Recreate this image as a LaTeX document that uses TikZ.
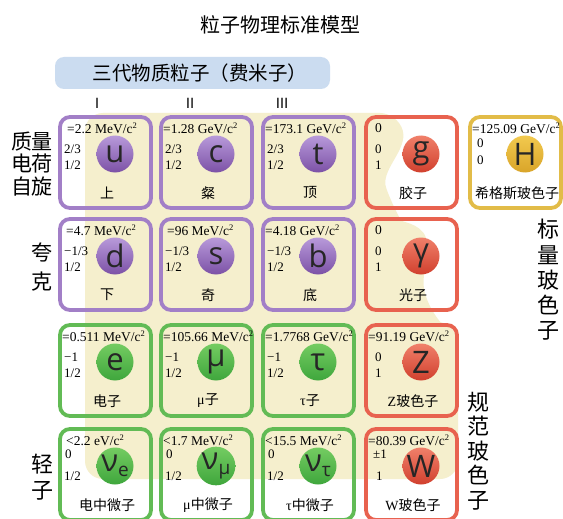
\documentclass[tikz,border=0pt]{standalone}
\usepackage{fontspec}
\setmainfont{Liberation Serif}
\newfontfamily\cjk{Noto Sans CJK SC}
\newfontfamily\symf{Open Sans}
\definecolor{puB}{HTML}{A27FC7}
\definecolor{puL}{HTML}{B89ADA}
\definecolor{puD}{HTML}{7C51A6}
\definecolor{reB}{HTML}{E8624F}
\definecolor{reL}{HTML}{F0806A}
\definecolor{reD}{HTML}{D1402E}
\definecolor{grB}{HTML}{62BB55}
\definecolor{grL}{HTML}{74CC62}
\definecolor{grD}{HTML}{3FA63C}
\definecolor{yeB}{HTML}{E2BC48}
\definecolor{yeL}{HTML}{F2CA4E}
\definecolor{yeD}{HTML}{D9A42A}
\definecolor{beige}{HTML}{F5EFCD}
\definecolor{bannerblue}{HTML}{CBDCF0}
\newcommand\pcell[9]{%
  \node[cell, draw=#4B] (#1) at (#2+47.5,#3+47.5) {};
  \node[ball, top color=#4L, bottom color=#4D] (#1-o) at (#2+57,#3+39) {#8};
  \node[mass] (#1-m) at (#2+4,#3+13) {#5};
  \node[num] (#1-q) at (#2+6,#3+\qy) {#6};
  \node[num] (#1-s) at (#2+6,#3+\sy) {#7};
  \node[cname] (#1-n) at (#2+49,#3+78) {#9};
}
\newcommand\sub[1]{{\fontsize{19}{19}\selectfont\raisebox{-5pt}{#1}}}
\newcommand\csq{c\raisebox{4.6pt}{\fontsize{8.5}{8.5}\selectfont 2}}
\begin{document}
\begin{tikzpicture}[x=1pt,y=-1pt,
  cell/.style={rectangle, minimum width=91pt, minimum height=91pt, inner sep=0pt, line width=3.8pt, rounded corners=10pt},
  ball/.style={circle, minimum size=37pt, inner sep=0pt, shading angle=30, text=black!85, font=\symf\fontsize{31}{31}\selectfont},
  mass/.style={anchor=west, inner sep=0pt, font=\fontsize{13.5}{14}\selectfont},
  num/.style={anchor=west, inner sep=0pt, font=\fontsize{13}{14}\selectfont},
  cname/.style={inner sep=0pt, font=\cjk\fontsize{14}{14}\selectfont},
  side/.style={inner sep=0pt, align=center, font=\cjk\fontsize{21}{24}\selectfont},
  roman/.style={inner sep=0pt, font=\cjk\fontsize{14}{14}\selectfont}]
\useasboundingbox (0,0) rectangle (563,519);
\fill[white] (0,0) rectangle (563,519);
% beige background blob
\fill[beige, rounded corners=18pt] (85,113) -- (398,113)
   .. controls (408,150) and (380,170) .. (392,205)
   .. controls (402,222) and (428,225) .. (425,262)
   .. controls (422,300) and (440,322) .. (458,326)
   -- (458,479) -- (85,479) -- cycle;
% title and banner
\node[inner sep=0pt, font=\cjk\fontsize{20}{20}\selectfont] (title) at (280,25) {粒子物理标准模型};
\node[fill=bannerblue, rounded corners=9pt, minimum width=275pt, minimum height=32pt, inner sep=0pt] (banner) at (192.5,73) {};
\node[inner sep=0pt, font=\cjk\fontsize{19.5}{20}\selectfont] (bannertext) at (200,73) {三代物质粒子（费米子）};
\node[roman] (gen1) at (97,103) {Ⅰ};
\node[roman] (gen2) at (190,103) {Ⅱ};
\node[roman] (gen3) at (282,103) {Ⅲ};
% side labels
\node[side, font=\cjk\fontsize{21}{22.5}\selectfont] (props) at (32,164) {质量\\电荷\\自旋};
\node[side, font=\cjk\fontsize{21}{29}\selectfont] (quarks) at (42,267) {夸\\克};
\node[side, font=\cjk\fontsize{22}{26}\selectfont] (leptons) at (42,477) {轻\\子};
\node[side, font=\cjk\fontsize{22}{25.2}\selectfont] (scalar) at (548,280) {标\\量\\玻\\色\\子};
\node[side, font=\cjk\fontsize{22}{24.5}\selectfont] (gauge) at (478,451) {规\\范\\玻\\色\\子};
% particle cells
\def\qy{34}\def\sy{50}
\pcell{u}{58}{115}{pu}{\hspace*{5pt}=2.2 MeV/\csq}{2/3}{1/2}{u}{上}
\pcell{c}{159}{115}{pu}{=1.28 GeV/\csq}{2/3}{1/2}{c}{粲}
\pcell{t}{261}{115}{pu}{=173.1 GeV/\csq}{2/3}{1/2}{t}{顶}
\pcell{g}{364}{115}{re}{\hspace*{7pt}0}{\hspace*{5pt}0}{\hspace*{5pt}1}{g}{胶子}
\pcell{d}{58}{217}{pu}{\hspace*{4pt}=4.7 MeV/\csq}{−1/3}{1/2}{d}{下}
\pcell{s}{159}{217}{pu}{\hspace*{4pt}=96 MeV/\csq}{−1/3}{1/2}{s}{奇}
\pcell{b}{261}{217}{pu}{=4.18 GeV/\csq}{−1/3}{1/2}{b}{底}
\pcell{gamma}{364}{217}{re}{\hspace*{7pt}0}{\hspace*{5pt}0}{\hspace*{5pt}1}{γ}{光子}
\pcell{e}{58}{323}{gr}{=0.511 MeV/\csq}{−1}{1/2}{e}{电子}
\pcell{mu}{159}{323}{gr}{=105.66 MeV/\csq}{−1}{1/2}{μ}{{\rmfamily μ}子}
\pcell{tau}{261}{323}{gr}{=1.7768 GeV/\csq}{−1}{1/2}{τ}{{\rmfamily τ}子}
\pcell{Z}{364}{323}{re}{=91.19 GeV/\csq}{\hspace*{5pt}0}{\hspace*{5pt}1}{Z}{{\rmfamily Z}玻色子}
\def\qy{27}\def\sy{49}
\pcell{nue}{58}{427}{gr}{\hspace*{4pt}<2.2 eV/\csq}{\hspace*{1pt}0}{1/2}{ν\sub{e}}{电中微子}
\pcell{numu}{159}{427}{gr}{<1.7 MeV/\csq}{\hspace*{1pt}0}{1/2}{ν\sub{μ}}{{\rmfamily μ}中微子}
\pcell{nutau}{261}{427}{gr}{<15.5 MeV/\csq}{\hspace*{1pt}0}{1/2}{ν\sub{τ}}{{\rmfamily τ}中微子}
\pcell{W}{364}{427}{re}{=80.39 GeV/\csq}{\hspace*{3pt}±1}{\hspace*{6pt}1}{W}{{\rmfamily W}玻色子}
\def\qy{28}\def\sy{45}
\pcell{H}{468}{115}{ye}{=125.09 GeV/\csq}{\hspace*{3pt}0}{\hspace*{3pt}0}{H}{希格斯玻色子}
\end{tikzpicture}
\end{document}
